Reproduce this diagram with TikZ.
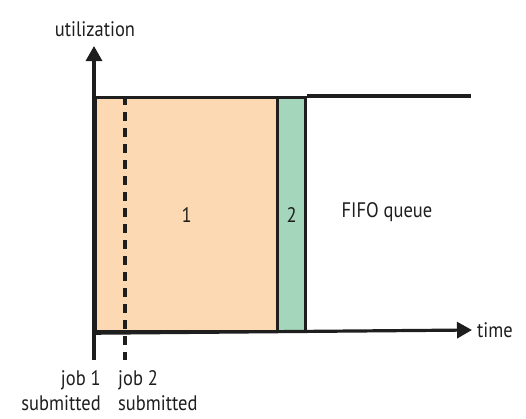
\documentclass[tikz,border=0pt]{standalone}
\usepackage{fontspec}
\setmainfont{PT Sans}[FakeStretch=0.88]
\usetikzlibrary{arrows.meta}
\definecolor{jobone}{RGB}{252,217,178}
\definecolor{jobtwo}{RGB}{164,214,188}
\definecolor{ink}{RGB}{30,30,30}
\tikzset{
  lbl/.style={font=\fontsize{21}{25}\selectfont, text=ink, inner sep=0pt},
  bar/.style={draw=ink, line width=3.2pt, anchor=north west, inner sep=0pt},
  axis/.style={draw=ink, line width=3.2pt, -{Triangle[length=15pt,width=16pt]}},
  plain/.style={draw=ink, line width=3.2pt},
}
\begin{document}
\begin{tikzpicture}[x=1pt,y=-1pt]
\useasboundingbox (0,0) rectangle (526,418);
\node[bar, fill=jobone, minimum width=182pt, minimum height=234pt] (b1) at (94,96) {};
\node[bar, fill=jobtwo, minimum width=28pt, minimum height=234pt] (b2) at (276,96) {};
\node[lbl] at (b1.center) {1};
\node[lbl] at (b2.center) {2};
\node[lbl] (fifo) at (387,212) {FIFO queue};
\coordinate (ytop) at (94,46);
\coordinate (ybot) at (94,360);
\coordinate (xend) at (472,330);
\coordinate (topend) at (471,96);
\coordinate (dtop) at (125,96);
\coordinate (dbot) at (125,360);
\draw[plain] (b2.north east) -- (topend);
\draw[axis] (ybot) -- (ytop);
\draw[axis] (b1.south west) -- (xend);
\draw[draw=ink, line width=3.2pt, dash pattern=on 9pt off 7pt] (dtop) -- (dbot);
\node[lbl, anchor=base] (util) at (95,36) {utilization};
\node[lbl, anchor=west] (time) at (477,330) {time};
\node[lbl, anchor=north east, align=right] (j1) at (101,370) {job 1\\submitted};
\node[lbl, anchor=north west, align=left] (j2) at (118,370) {job 2\\submitted};
\end{tikzpicture}
\end{document}
